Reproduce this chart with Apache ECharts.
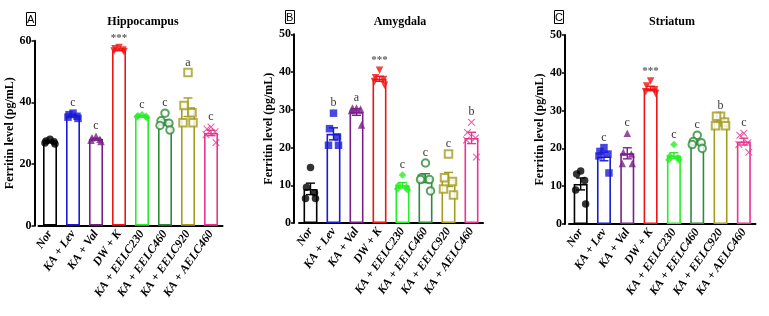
<!DOCTYPE html>
<html>
<head>
<meta charset="utf-8">
<script src="https://cdn.jsdelivr.net/npm/echarts@6/dist/echarts.min.js"></script>
<style>
  html, body { margin: 0; padding: 0; background: #fff; }
  #chart { width: 769px; height: 316px; }
</style>
</head>
<body>
<div id="chart"></div>
<script>
// groups on every x axis
const groups = ['Nor', 'KA + Lev', 'KA + Val', 'DW + K', 'KA + EELC230', 'KA + EELC460', 'KA + EELC920', 'KA + AELC460'];
const groupColors = ['#000000', '#1a1ad6', '#7a1f8a', '#f01414', '#28ee28', '#2e8b3a', '#a39c1e', '#e8358f'];

// individual animals (pg/mL), 5 per group
const hippoPoints = [
  [28.0, 27.5, 27.2, 26.8, 26.5],
  [36.5, 36.0, 35.5, 35.2, 34.8],
  [29.0, 28.5, 28.0, 27.7, 27.3],
  [57.8, 57.4, 57.0, 56.7, 56.4],
  [36.0, 35.7, 35.5, 35.3, 35.0],
  [36.5, 34.0, 33.2, 32.5, 31.0],
  [49.7, 39.0, 36.6, 33.4, 33.4],
  [32.0, 31.4, 30.5, 29.5, 27.0]
];
const amygPoints = [
  [14.7, 9.5, 8.0, 6.5, 6.5],
  [29.1, 25.0, 22.8, 20.6, 20.6],
  [30.5, 30.5, 30.2, 29.8, 26.0],
  [40.5, 38.5, 38.0, 37.5, 36.5],
  [12.7, 10.0, 9.5, 9.0, 8.8],
  [15.9, 12.0, 11.5, 11.5, 8.5],
  [18.3, 12.0, 11.0, 9.0, 7.4],
  [26.7, 24.0, 22.5, 22.0, 17.5]
];
const striaPoints = [
  [14.0, 13.2, 11.5, 9.0, 5.3],
  [20.2, 19.2, 18.5, 18.0, 13.5],
  [24.0, 19.0, 18.5, 16.0, 16.0],
  [37.8, 36.5, 35.5, 35.0, 34.5],
  [21.0, 18.0, 17.5, 17.0, 17.0],
  [23.5, 21.8, 21.5, 21.0, 20.0],
  [28.5, 28.5, 27.0, 26.0, 26.0],
  [24.0, 23.5, 21.5, 21.0, 19.0]
];

// significance letters
const hippoLetters = ['', 'c', 'c', '***', 'c', 'c', 'a', 'c'];
const amygLetters = ['', 'b', 'a', '***', 'c', 'c', 'c', 'b'];
const striaLetters = ['', 'c', 'c', '***', 'c', 'c', 'b', 'c'];

const panelTitles = ['Hippocampus', 'Amygdala', 'Striatum'];
const panelTags = ['A', 'B', 'C'];
const yMax = [60, 50, 50];
const yStep = [20, 10, 10];

const symbols = ['circle', 'rect', 'triangle', 'triangle', 'diamond', 'emptyCircle', 'emptyRect',
  'path://M0,1L1,0L5,4L9,0L10,1L6,5L10,9L9,10L5,6L1,10L0,9L4,5Z'];
const jitter = [0, -4, 4, -5, 5];

const font = 'Liberation Serif';

const mean = a => a.reduce((s, v) => s + v, 0) / a.length;
const sem = a => {
  const m = mean(a);
  const sd = Math.sqrt(a.reduce((s, v) => s + (v - m) * (v - m), 0) / (a.length - 1));
  return sd / Math.sqrt(a.length);
};

const panels = [
  { points: hippoPoints, letters: hippoLetters },
  { points: amygPoints, letters: amygLetters },
  { points: striaPoints, letters: striaLetters }
];

const grids = [
  { left: 38.5, top: 40.7, width: 184, bottom: 90.3 },
  { left: 299, top: 34.3, width: 184, bottom: 93 },
  { left: 569, top: 35, width: 186.5, bottom: 92 }
];
const yOffsets = [4, 5, 4];
const nameGaps = [14, 16, 13];

const series = [];
panels.forEach((p, k) => {
  const means = p.points.map(mean);
  const sems = p.points.map(sem);

  series.push({
    type: 'bar',
    xAxisIndex: k, yAxisIndex: k,
    barWidth: 14,
    z: 1,
    data: means.map((m, i) => ({
      value: m,
      itemStyle: { color: '#fff', borderColor: groupColors[i], borderWidth: 1.6 }
    }))
  });

  series.push({
    type: 'custom',
    xAxisIndex: k, yAxisIndex: k,
    z: 3,
    data: means.map((m, i) => [i, m, sems[i]]),
    renderItem: (params, api) => {
      const i = api.value(0), m = api.value(1), s = api.value(2);
      const hi = api.coord([i, m + s]);
      const lo = api.coord([i, m - s]);
      const st = { stroke: groupColors[i], lineWidth: 1.4 };
      return {
        type: 'group',
        children: [
          { type: 'line', shape: { x1: hi[0], y1: hi[1], x2: lo[0], y2: lo[1] }, style: st },
          { type: 'line', shape: { x1: hi[0] - 4.5, y1: hi[1], x2: hi[0] + 4.5, y2: hi[1] }, style: st },
          { type: 'line', shape: { x1: lo[0] - 4.5, y1: lo[1], x2: lo[0] + 4.5, y2: lo[1] }, style: st }
        ]
      };
    }
  });

  const dots = [];
  p.points.forEach((arr, i) => {
    arr.forEach((v, j) => {
      dots.push({
        value: [i, v],
        symbol: symbols[i],
        symbolRotate: i === 3 ? 180 : 0,
        symbolSize: 7.5,
        symbolOffset: [jitter[j], 0],
        itemStyle: { color: groupColors[i], borderColor: groupColors[i], borderWidth: i === 5 || i === 6 ? 1.3 : 0 }
      });
    });
  });
  series.push({
    type: 'scatter',
    xAxisIndex: k, yAxisIndex: k,
    z: 4,
    data: dots
  });

  series.push({
    type: 'scatter',
    xAxisIndex: k, yAxisIndex: k,
    z: 5,
    symbolSize: 0,
    data: p.letters.map((t, i) => ({
      value: [i, Math.max(Math.max(...p.points[i]), means[i] + sems[i])],
      label: {
        show: t !== '',
        position: 'top',
        distance: 4,
        formatter: t,
        color: t === '***' ? '#333' : '#000',
        fontFamily: font,
        fontSize: t === '***' ? 11 : 12,
        fontWeight: t === '***' ? 'bold' : 'normal'
      }
    }))
  });
});

const titleCenters = [138, 395, 667];
const tagPos = [[26, 12], [285, 10], [554, 10]];
const titles = [];
panelTitles.forEach((t, k) => {
  titles.push({
    text: t, left: titleCenters[k], top: 11, textAlign: 'center',
    textStyle: { fontFamily: font, fontSize: 12, fontWeight: 'bold', color: '#000' }
  });
  titles.push({
    text: panelTags[k], left: tagPos[k][0], top: tagPos[k][1],
    padding: [2, 1, 1, 1], borderColor: '#000', borderWidth: 1,
    textStyle: { fontFamily: 'Liberation Sans', fontSize: 11, fontWeight: 'normal', color: '#000' }
  });
});

const chart = echarts.init(document.getElementById('chart'));
chart.setOption({
  animation: false,
  backgroundColor: '#fff',
  title: titles,
  grid: grids,
  xAxis: grids.map((g, k) => ({
    type: 'category',
    gridIndex: k,
    data: groups,
    axisLine: { lineStyle: { color: '#000', width: 2 } },
    axisTick: { alignWithLabel: true, length: 4, lineStyle: { color: '#000', width: 1.5 } },
    axisLabel: {
      interval: 0, rotate: 55, margin: 6,
      fontFamily: font, fontSize: 12, fontWeight: 'bold', fontStyle: 'italic', color: '#000'
    },
    splitLine: { show: false }
  })),
  yAxis: grids.map((g, k) => ({
    type: 'value',
    gridIndex: k,
    min: 0, max: yMax[k], interval: yStep[k],
    offset: yOffsets[k],
    name: 'Ferritin level (pg/mL)',
    nameLocation: 'middle',
    nameGap: nameGaps[k],
    nameTextStyle: { fontFamily: font, fontSize: 12, fontWeight: 'bold', color: '#000' },
    axisLine: { show: true, lineStyle: { color: '#000', width: 2 } },
    axisTick: { show: true, length: 3, lineStyle: { color: '#000', width: 1.5 } },
    axisLabel: { margin: 3, fontFamily: font, fontSize: 12, fontWeight: 'bold', color: '#000' },
    splitLine: { show: false }
  })),
  series: series
});
</script>
</body>
</html>
